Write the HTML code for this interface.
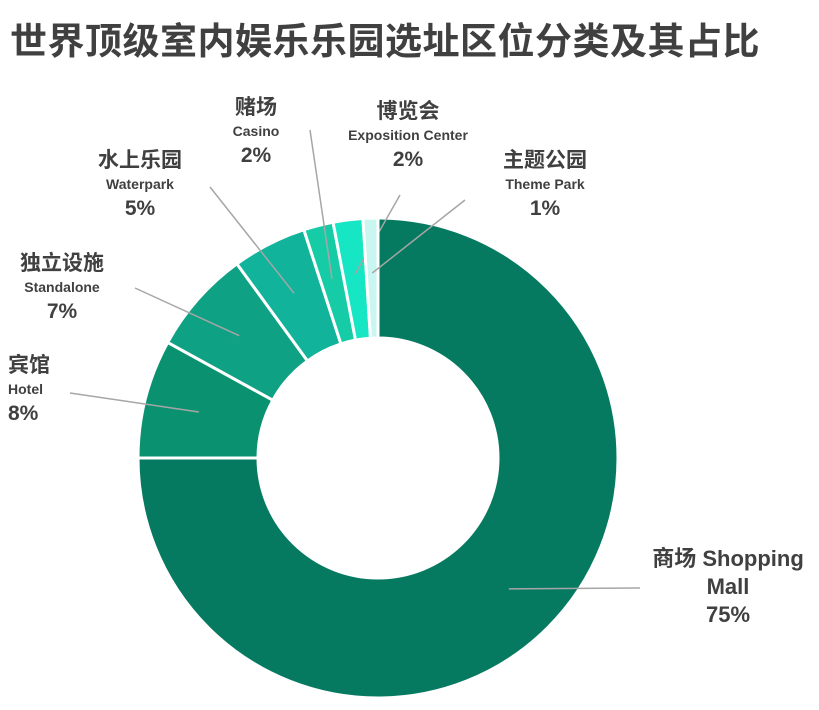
<!DOCTYPE html>
<html><head><meta charset="utf-8"><style>
body{margin:0;background:#fff;width:819px;height:710px;overflow:hidden;font-family:"Liberation Sans","Noto Sans CJK SC",sans-serif}
.t{position:absolute;left:10px;top:11px;font-size:37px;font-weight:bold;color:#404040;letter-spacing:0.5px;white-space:nowrap}
text{font-family:"Liberation Sans","Noto Sans CJK SC",sans-serif;fill:#404040;font-weight:bold}
</style></head><body>
<div class="t">世界顶级室内娱乐乐园选址区位分类及其占比</div>
<svg id="c" width="819" height="710" style="position:absolute;left:0;top:0"></svg>
<script>
const categories=["商场 Shopping Mall","宾馆 Hotel","独立设施 Standalone","水上乐园 Waterpark","赌场 Casino","博览会 Exposition Center","主题公园 Theme Park"];
const values=[75,8,7,5,2,2,1];
const colors=["#057a60","#0a9270","#0fa183","#12b39b","#15cca7","#16e6c3","#c9f6f0"];
const svg=document.getElementById('c');const NS="http://www.w3.org/2000/svg";
const cx=378,cy=458,R=240,r=120;
const total=values.reduce((a,b)=>a+b,0);
const labels=[
 {lines:[["商场 Shopping",22],["Mall",22],["75%",22]],x:728,y:566,lx:640,ly:588,anchor:"middle"},
 {lines:[["宾馆",21],["Hotel",14],["8%",21]],x:8,y:372,lx:70,ly:393,anchor:"start"},
 {lines:[["独立设施",21],["Standalone",14],["7%",21]],x:62,y:270,lx:135,ly:288,anchor:"middle"},
 {lines:[["水上乐园",21],["Waterpark",14],["5%",21]],x:140,y:167,lx:210,ly:187,anchor:"middle"},
 {lines:[["赌场",21],["Casino",14],["2%",21]],x:256,y:114,lx:310,ly:130,anchor:"middle"},
 {lines:[["博览会",21],["Exposition Center",14],["2%",21]],x:408,y:118,lx:400,ly:195,anchor:"middle"},
 {lines:[["主题公园",21],["Theme Park",14],["1%",21]],x:545,y:167,lx:465,ly:200,anchor:"middle"}
];
function pt(rad,a){return [cx+rad*Math.sin(a),cy-rad*Math.cos(a)];}
let acc=0;
values.forEach((v,i)=>{
 const a0=acc/total*2*Math.PI;acc+=v;const a1=acc/total*2*Math.PI;
 const large=(a1-a0)>Math.PI?1:0;
 const [x0,y0]=pt(R,a0),[x1,y1]=pt(R,a1),[x2,y2]=pt(r,a1),[x3,y3]=pt(r,a0);
 const p=document.createElementNS(NS,'path');
 p.setAttribute('d',`M${x0},${y0}A${R},${R} 0 ${large} 1 ${x1},${y1}L${x2},${y2}A${r},${r} 0 ${large} 0 ${x3},${y3}Z`);
 p.setAttribute('fill',colors[i]);p.setAttribute('stroke','#fff');p.setAttribute('stroke-width','3');
 
 
 svg.appendChild(p);
 const L=labels[i];const am=(a0+a1)/2;const [mx,my]=pt(185,am);
 const ln=document.createElementNS(NS,'line');
 ln.setAttribute('x1',mx);ln.setAttribute('y1',my);ln.setAttribute('x2',L.lx);ln.setAttribute('y2',L.ly);
 ln.setAttribute('stroke','#a6a6a6');ln.setAttribute('stroke-width','1.5');
 
 
 svg.appendChild(ln);
 const t=document.createElementNS(NS,'text');t.setAttribute('text-anchor',L.anchor);
 
 
 let y=L.y;
 L.lines.forEach((ln2,k)=>{
  const s=document.createElementNS(NS,'tspan');s.setAttribute('x',L.x);
  if(k>0)y+=ln2[1]===14?22:(L.lines[k-1][1]===14?26:28);
  s.setAttribute('y',y);s.setAttribute('font-size',ln2[1]);
  s.textContent=k===L.lines.length-1?values[i]+'%':ln2[0];t.appendChild(s);
 });
 svg.appendChild(t);
});
</script>
</body></html>
